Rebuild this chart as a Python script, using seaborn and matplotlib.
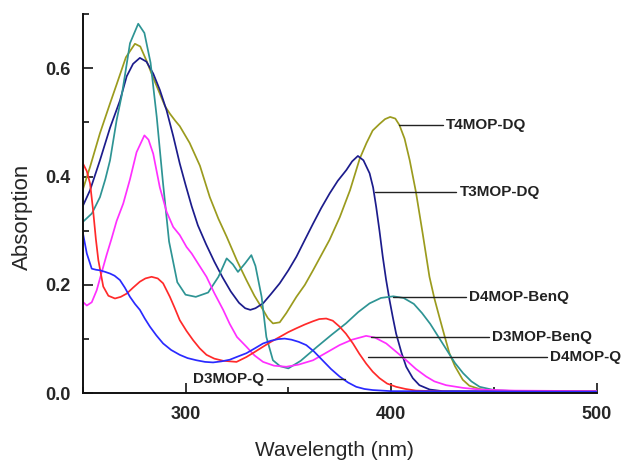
import matplotlib
matplotlib.use("Agg")
import matplotlib.pyplot as plt
import seaborn as sns
import pandas as pd
from matplotlib.ticker import MultipleLocator

# ---------------- data ----------------
names = ["T4MOP-DQ", "T3MOP-DQ", "D4MOP-BenQ", "D3MOP-BenQ", "D4MOP-Q", "D3MOP-Q"]

t4_wl = [250, 253.6, 258.4, 263.3, 266.5, 271, 275.4, 278, 281, 284, 287.5, 290, 292.4, 295, 297.2,
         302, 307, 311.8, 316, 320, 325, 329.6, 333.5, 337.7, 340, 342.5, 345.8, 349,
         353.9, 358, 362, 366, 370, 375, 380, 384.7, 388, 391, 394.3, 397, 399.5, 402, 404,
         406.5, 409, 412, 415.3, 418.6, 421, 423.4, 426, 428.3, 431, 434.8, 438, 442.9, 450, 500]
t4_ab = [0.375, 0.418, 0.48, 0.535, 0.57, 0.62, 0.645, 0.64, 0.614, 0.585, 0.553, 0.53, 0.516,
         0.503, 0.493, 0.462, 0.42, 0.362, 0.322, 0.289, 0.245, 0.209, 0.18, 0.154, 0.139,
         0.129, 0.131, 0.148, 0.178, 0.2, 0.227, 0.255, 0.283, 0.325, 0.375, 0.433, 0.462, 0.485,
         0.497, 0.506, 0.51, 0.507, 0.495, 0.47, 0.43, 0.372, 0.295, 0.215, 0.175, 0.141, 0.105,
         0.074, 0.05, 0.025, 0.014, 0.008, 0.004, 0.003]

t3_wl = [250, 253.6, 258.4, 263.3, 268.1, 271.4, 274.5, 277.8, 281, 284.3, 287.5, 290.8, 294,
         297.2, 300, 303, 306, 310, 314, 318, 322, 326, 329, 331.5, 334, 337.7, 341.5, 345.8,
         350, 353.9, 358, 362, 366, 370.1, 374, 378.2, 381, 383.8, 386.5, 389.5, 391.2, 392.7,
         394.3, 395.9, 397.5, 399.2, 400.8, 402.4, 405, 407.3, 410.5, 413.7, 418.7, 425, 500]
t3_ab = [0.345, 0.375, 0.43, 0.49, 0.54, 0.585, 0.608, 0.619, 0.612, 0.59, 0.56, 0.522, 0.475,
         0.424, 0.385, 0.345, 0.31, 0.275, 0.243, 0.214, 0.188, 0.167, 0.157, 0.154, 0.157, 0.166,
         0.183, 0.203, 0.227, 0.252, 0.283, 0.313, 0.342, 0.369, 0.392, 0.412, 0.428, 0.438, 0.43,
         0.406, 0.38, 0.344, 0.30, 0.252, 0.21, 0.172, 0.14, 0.11, 0.075, 0.049, 0.028, 0.015,
         0.007, 0.004, 0.003]

d4b_wl = [250, 254.5, 258.4, 261, 263.3, 266.5, 269, 273, 277, 280, 283, 286, 289, 292, 296, 300,
          305, 311, 316, 320, 323, 325.5, 329, 332, 334, 337, 339.3, 342.5, 346, 350, 356, 364,
          371, 378, 384, 389.5, 395, 401, 406, 411, 415, 419, 423, 427, 431, 435, 439, 443, 450,
          460, 480, 500]
d4b_ab = [0.316, 0.332, 0.362, 0.395, 0.43, 0.504, 0.55, 0.646, 0.682, 0.665, 0.61, 0.51, 0.39,
          0.28, 0.205, 0.182, 0.178, 0.186, 0.215, 0.249, 0.238, 0.224, 0.24, 0.255, 0.235, 0.178,
          0.104, 0.061, 0.05, 0.046, 0.06, 0.086, 0.108, 0.129, 0.15, 0.166, 0.176, 0.179, 0.176,
          0.165, 0.148, 0.128, 0.104, 0.08, 0.056, 0.037, 0.022, 0.012, 0.006, 0.004, 0.004, 0.004]

d3b_wl = [250, 252, 254.4, 256.8, 259, 261.6, 264, 266.5, 269.7, 273, 276.2, 280, 282, 284.3,
          287.5, 290.8, 294, 297.2, 300.5, 303, 306, 310.2, 314, 318.3, 321.5, 325, 329.6,
          333.5, 337.7, 343, 349, 355, 362, 368, 374.9, 381, 387.8, 392, 397.6, 402, 407.3, 412,
          417, 421, 426.7, 435, 443, 460, 500]
d3b_ab = [0.169, 0.162, 0.168, 0.19, 0.22, 0.255, 0.285, 0.318, 0.35, 0.395, 0.445, 0.476, 0.468,
          0.442, 0.38, 0.335, 0.307, 0.292, 0.27, 0.258, 0.24, 0.215, 0.185, 0.154, 0.128,
          0.104, 0.086, 0.07, 0.058, 0.051, 0.049, 0.053, 0.061, 0.074, 0.089, 0.099, 0.106,
          0.103, 0.092, 0.078, 0.061, 0.045, 0.031, 0.022, 0.015, 0.01, 0.007, 0.005, 0.004]

d4q_wl = [250, 252, 253.6, 255, 256.4, 257.6, 260, 262.5, 265.7, 268.5, 271.4, 274.5, 277.8, 280.5,
          283.5, 286.5, 289.1, 292.4, 294.8, 297.2, 300.5, 303.7, 306.9, 310.2, 314, 318.3, 324.8,
          329.6, 333.5, 337.7, 341.5, 345.8, 350, 353.9, 358, 362, 365, 368.4, 371.6, 374.9, 378,
          381.4, 384.5, 387.8, 391, 394.3, 398, 402.4, 407, 412, 430, 500]
d4q_ab = [0.425, 0.41, 0.387, 0.34, 0.285, 0.246, 0.197, 0.18, 0.175, 0.178, 0.184, 0.195, 0.206,
          0.212, 0.215, 0.212, 0.203, 0.178, 0.157, 0.135, 0.115, 0.098, 0.083, 0.071, 0.064, 0.06,
          0.058, 0.067, 0.076, 0.086, 0.095, 0.104, 0.113, 0.12, 0.127, 0.133, 0.137, 0.138, 0.134,
          0.123, 0.11, 0.092, 0.073, 0.055, 0.04, 0.028, 0.018, 0.012, 0.008, 0.005, 0.003, 0.003]

d3q_wl = [250, 252, 254.4, 256.5, 258.4, 261, 263.3, 265.5, 268.1, 270.5, 273, 275.4, 277.8, 280.2,
          282.7, 285.8, 289.1, 293, 297.2, 301, 305.3, 309.5, 313.4, 317.5, 321.5, 325.5, 329.6,
          333.7, 337.7, 341.5, 345, 348.2, 351.5, 355, 358.7, 362.5, 366.6, 370.7, 374.9, 379, 383,
          387, 391.1, 400, 500]
d3q_ab = [0.298, 0.258, 0.23, 0.228, 0.227, 0.224, 0.221, 0.217, 0.209, 0.195, 0.178, 0.165, 0.154,
          0.138, 0.123, 0.107, 0.092, 0.08, 0.071, 0.065, 0.061, 0.058, 0.057, 0.059, 0.062, 0.068,
          0.074, 0.083, 0.092, 0.097, 0.1, 0.101, 0.099, 0.095, 0.089, 0.077, 0.061, 0.045, 0.031,
          0.02, 0.012, 0.008, 0.006, 0.004, 0.003]

x_ticks = [300, 400, 500]
y_ticks = [0.0, 0.2, 0.4, 0.6]
x_label = "Wavelength (nm)"
y_label = "Absorption"

# ---------------- styling ----------------
series = [(t4_wl, t4_ab), (t3_wl, t3_ab), (d4b_wl, d4b_ab), (d3b_wl, d3b_ab), (d4q_wl, d4q_ab), (d3q_wl, d3q_ab)]
colors = ["#9b9b1e", "#1c1c8c", "#2e9494", "#ff30ff", "#ff2a2a", "#2a2aff"]
# label leader lines: (x_start, x_end, y) in data coords, text at x_end
leaders = [(404, 425, 0.4945), (392, 431.7, 0.371), (401, 436.5, 0.178),
           (390.4, 447.7, 0.104), (388.5, 475.9, 0.067), (339.5, 377.4, 0.0265)]

sns.set_style("ticks")
plt.rcParams["font.family"] = ["Liberation Sans", "DejaVu Sans"]

fig = plt.figure(figsize=(6.25, 4.63), dpi=100)
ax = fig.add_axes([0.1323, 0.1505, 0.8227, 0.8193])

frames = []
for name, (wl, ab) in zip(names, series):
    frames.append(pd.DataFrame({"wl": wl, "ab": ab, "name": name}))
df = pd.concat(frames, ignore_index=True)

sns.lineplot(data=df, x="wl", y="ab", hue="name", hue_order=names,
             palette=dict(zip(names, colors)), sort=False, estimator=None,
             linewidth=1.25, legend=False, ax=ax)

for name, (x0, x1, y) in zip(names, leaders):
    ax.plot([x0, x1], [y, y], color="#222222", lw=1.0)
    if name == "D3MOP-Q":
        ax.text(x0 - 1.5, y, name, ha="right", va="center", fontsize=11,
                fontweight="bold", color="#222222")
    else:
        ax.text(x1 + 1.5, y, name, ha="left", va="center", fontsize=11,
                fontweight="bold", color="#222222")

ax.set_xlim(250, 500)
ax.set_ylim(0, 0.70)
ax.set_xticks(x_ticks)
ax.set_yticks(y_ticks)
ax.set_yticklabels([f"{v:.1f}" for v in y_ticks])
ax.xaxis.set_minor_locator(MultipleLocator(50))
ax.yaxis.set_minor_locator(MultipleLocator(0.1))
ax.tick_params(which="major", direction="in", length=7, width=1.3, labelsize=13, pad=9)
ax.tick_params(which="minor", direction="in", length=4.5, width=1.3)
for lab in ax.get_xticklabels() + ax.get_yticklabels():
    lab.set_fontweight("bold")

for s in ["top", "right"]:
    ax.spines[s].set_visible(False)
for s in ["left", "bottom"]:
    ax.spines[s].set_linewidth(1.4)
    ax.spines[s].set_color("#111111")

ax.set_xlabel(x_label, fontsize=15)
ax.set_ylabel(y_label, fontsize=16)
ax.xaxis.set_label_coords(0.49, -0.150)
ax.xaxis.label.set_va("center")
ax.yaxis.set_label_coords(-0.118, 0.466)
ax.yaxis.label.set_va("center")

fig.savefig("out.png", dpi=100)
